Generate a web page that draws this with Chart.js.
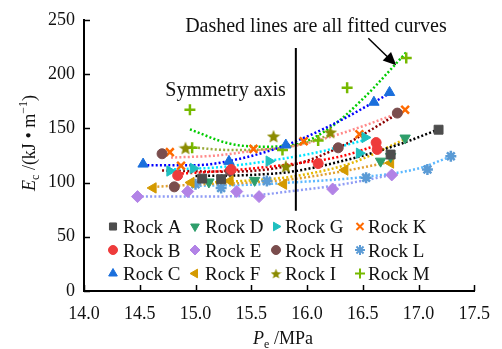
<!DOCTYPE html>
<html><head><meta charset="utf-8">
<script src="https://cdn.jsdelivr.net/npm/chart.js@4.4.0/dist/chart.umd.min.js"></script>
<style>html,body{margin:0;padding:0;background:#fff}#wrap{width:502px;height:349px}</style>
</head><body><div id="wrap"><canvas id="c" width="502" height="349"></canvas></div>
<script>
// Measured points: confining pressure Pe (MPa) and energy Ec (kJ/m)
const rockA_pe = [15.06, 15.23, 16.75, 17.18];
const rockA_ec = [103.6, 103, 125.8, 148.7];
const rockB_pe = [14.84, 15.32, 16.10, 16.62, 16.63];
const rockB_ec = [106.5, 112, 117.5, 136.8, 130.5];
const rockC_pe = [14.53, 15.30, 15.81, 16.60, 16.74];
const rockC_ec = [117, 119.5, 134.6, 174, 183];
const rockD_pe = [15.12, 15.53, 16.66, 16.75, 16.88];
const rockD_ec = [100.5, 102, 119.7, 124, 141];
const rockE_pe = [14.48, 14.93, 15.37, 15.57, 16.23, 16.76];
const rockE_ec = [87, 91.7, 91.7, 87, 94, 107];
const rockF_pe = [14.62, 14.96, 15.31, 15.79, 16.34, 16.75];
const rockF_ec = [95, 100, 101.5, 98.5, 111.5, 118];
const rockG_pe = [14.77, 14.98, 15.66, 16.47, 16.52];
const rockG_ec = [110.6, 113, 119.7, 127, 141.5];
const rockH_pe = [14.70, 14.81, 15.31, 16.28, 16.81];
const rockH_ec = [126.5, 96, 110.6, 132, 164];
const rockI_pe = [14.91, 15.70, 15.81, 16.21];
const rockI_ec = [132, 142.8, 115, 146.5];
const rockK_pe = [14.77, 14.87, 15.52, 15.97, 16.47, 16.88];
const rockK_ec = [128, 115.5, 131, 138, 144.5, 167];
const rockL_pe = [15.0, 15.23, 15.64, 16.53, 17.08, 17.29];
const rockL_ec = [98.5, 95, 101.5, 104.5, 112, 124.3];
const rockM_pe = [14.95, 14.97, 15.78, 16.10, 16.36, 16.89];
const rockM_ec = [167, 132, 130, 138.7, 187.4, 214.8];

// Fitted curves (sampled along each dotted trend line)
const fitA_pe = [15.0, 15.5, 15.86, 16.4, 16.85, 17.18];
const fitA_ec = [106, 107, 110, 122, 136, 149];
const fitB_pe = [14.84, 15.3, 15.86, 16.3, 16.62];
const fitB_ec = [108, 111, 117, 124, 134];
const fitC_pe = [14.53, 15.0, 15.4, 15.8, 16.2, 16.74];
const fitC_ec = [116, 116, 122, 134, 152, 182];
const fitD_pe = [15.1, 15.5, 15.9, 16.4, 16.88];
const fitD_ec = [100, 102, 106, 118, 140];
const fitE_pe = [14.48, 15.0, 15.5, 15.86, 16.3, 16.76];
const fitE_ec = [87, 87, 88, 92, 98, 107];
const fitF_pe = [14.62, 15.0, 15.5, 15.86, 16.3, 16.75];
const fitF_ec = [96, 98, 100, 103, 110, 119];
const fitG_pe = [14.77, 15.2, 15.66, 16.1, 16.51];
const fitG_ec = [112, 114, 120, 128, 139];
const fitH_pe = [14.7, 15.3, 15.9, 16.3, 16.81];
const fitH_ec = [111, 110, 117, 133, 163];
const fitI_pe = [14.91, 15.3, 15.7, 16.0, 16.21];
const fitI_ec = [133, 130, 131, 137, 144];
const fitK_pe = [14.78, 15.2, 15.5, 15.9, 16.3, 16.85];
const fitK_ec = [123, 125, 129, 134, 145, 165];
const fitL_pe = [15.0, 15.5, 15.86, 16.5, 17.0, 17.29];
const fitL_ec = [97, 98, 100, 105, 113, 124];
const fitM_pe = [14.95, 15.3, 15.6, 15.9, 16.2, 16.5, 16.9];
const fitM_ec = [149, 136, 133, 135, 150, 177, 221];

// Symmetry axis
const axis_pe = [15.9, 15.9];
const axis_ec = [74, 224];

const xTicks = [14.0, 14.5, 15.0, 15.5, 16.0, 16.5, 17.0, 17.5];
const yTicks = [0, 50, 100, 150, 200, 250];

const SERIF = '"Liberation Serif", "Times New Roman", serif';

function pts(xs, ys) { return xs.map((x, i) => ({x: x, y: ys[i]})); }

function starImage(size, color) {
  const c = document.createElement('canvas');
  c.width = c.height = size;
  const g = c.getContext('2d');
  g.fillStyle = color;
  g.beginPath();
  for (let i = 0; i < 10; i++) {
    const r = i % 2 ? size * 0.22 : size * 0.5;
    const a = -Math.PI / 2 + i * Math.PI / 5;
    g.lineTo(size / 2 + r * Math.cos(a), size / 2 + r * Math.sin(a) + size * 0.06);
  }
  g.closePath();
  g.fill();
  return c;
}
const starBig = starImage(14, '#8b8b00');
const starSmall = starImage(11, '#8b8b00');

const rocks = [
  {name: 'Rock A', pe: rockA_pe, ec: rockA_ec, color: '#4d4d4d', style: 'rect', rot: 0, r: 6.3, bw: 1, fit: [fitA_pe, fitA_ec], fitColor: '#000000'},
  {name: 'Rock B', pe: rockB_pe, ec: rockB_ec, color: '#ee3b3b', style: 'circle', rot: 0, r: 5, bw: 1, fit: [fitB_pe, fitB_ec], fitColor: '#ff0000'},
  {name: 'Rock C', pe: rockC_pe, ec: rockC_ec, color: '#1a6fdc', style: 'triangle', rot: 0, r: 6, bw: 1, fit: [fitC_pe, fitC_ec], fitColor: '#0000ff'},
  {name: 'Rock D', pe: rockD_pe, ec: rockD_ec, color: '#2e9e6b', style: 'triangle', rot: 180, r: 6, bw: 1, fit: [fitD_pe, fitD_ec], fitColor: '#e6b800'},
  {name: 'Rock E', pe: rockE_pe, ec: rockE_ec, color: '#b283e6', style: 'rectRot', rot: 0, r: 6, bw: 1, fit: [fitE_pe, fitE_ec], fitColor: '#8f9cf5'},
  {name: 'Rock F', pe: rockF_pe, ec: rockF_ec, color: '#d49a00', style: 'triangle', rot: 270, r: 6, bw: 1, fit: [fitF_pe, fitF_ec], fitColor: '#e0a030'},
  {name: 'Rock G', pe: rockG_pe, ec: rockG_ec, color: '#1fbfbf', style: 'triangle', rot: 90, r: 6, bw: 1, fit: [fitG_pe, fitG_ec], fitColor: '#00e5ff'},
  {name: 'Rock H', pe: rockH_pe, ec: rockH_ec, color: '#7a4d4d', style: 'circle', rot: 0, r: 5, bw: 1, fit: [fitH_pe, fitH_ec], fitColor: '#8b0000'},
  {name: 'Rock I', pe: rockI_pe, ec: rockI_ec, color: '#8b8b00', style: starBig, small: starSmall, rot: 0, r: 7, bw: 1, fit: [fitI_pe, fitI_ec], fitColor: '#9aaa3a'},
  {name: 'Rock K', pe: rockK_pe, ec: rockK_ec, color: '#ff6a00', style: 'crossRot', rot: 0, r: 5.5, bw: 2.5, fit: [fitK_pe, fitK_ec], fitColor: '#ff8a8a'},
  {name: 'Rock L', pe: rockL_pe, ec: rockL_ec, color: '#5b9bd5', style: 'star', rot: 0, r: 5.5, bw: 2.5, fit: [fitL_pe, fitL_ec], fitColor: '#5cb8ff'},
  {name: 'Rock M', pe: rockM_pe, ec: rockM_ec, color: '#76b900', style: 'cross', rot: 0, r: 5.5, bw: 2.5, fit: [fitM_pe, fitM_ec], fitColor: '#00cc00'}
];

const datasets = [];
rocks.forEach(rk => {
  datasets.push({
    type: 'line', label: rk.name + ' fit', data: pts(rk.fit[0], rk.fit[1]),
    borderColor: rk.fitColor, borderWidth: 2.5, borderDash: [2, 2.2],
    pointRadius: 0, tension: 0.4, cubicInterpolationMode: 'monotone', fill: false, order: 2
  });
});
rocks.forEach(rk => {
  datasets.push({
    type: 'scatter', label: rk.name, data: pts(rk.pe, rk.ec),
    pointStyle: rk.style, rotation: rk.rot, pointRadius: rk.r, pointHoverRadius: rk.r,
    backgroundColor: rk.color, borderColor: rk.color, pointBorderWidth: rk.bw, order: 0
  });
});
datasets.push({
  type: 'line', label: 'Symmetry axis', data: pts(axis_pe, axis_ec),
  borderColor: '#000', borderWidth: 2, pointRadius: 0, fill: false, order: 1
});

// Inward tick marks, axis titles, annotations and the in-plot legend
const decor = {
  id: 'decor',
  afterDraw(chart) {
    const ctx = chart.ctx, xs = chart.scales.x, ys = chart.scales.y, ca = chart.chartArea;
    ctx.save();
    ctx.strokeStyle = '#000'; ctx.lineWidth = 1.5;
    xTicks.forEach(v => {
      const p = Math.round(xs.getPixelForValue(v)) + 0.5;
      ctx.beginPath(); ctx.moveTo(p, ca.bottom); ctx.lineTo(p, ca.bottom - 6); ctx.stroke();
    });
    yTicks.forEach(v => {
      const p = Math.round(ys.getPixelForValue(v)) + 0.5;
      ctx.beginPath(); ctx.moveTo(ca.left, p); ctx.lineTo(ca.left + 6, p); ctx.stroke();
    });

    // x-axis title
    ctx.fillStyle = '#111';
    ctx.textBaseline = 'alphabetic';
    const xParts = [
      {t: 'P', f: 'italic 18px ' + SERIF, dy: 0},
      {t: 'e', f: '12px ' + SERIF, dy: 4},
      {t: ' /MPa', f: '18px ' + SERIF, dy: 0}
    ];
    drawParts(ctx, xParts, 283, 344);

    // y-axis title (rotated)
    ctx.save();
    ctx.translate(35, 143);
    ctx.rotate(-Math.PI / 2);
    const yParts = [
      {t: 'E', f: 'italic 18px ' + SERIF, dy: 0},
      {t: 'c', f: '12px ' + SERIF, dy: 4},
      {t: ' /(kJ \u2022 m', f: '18px ' + SERIF, dy: 0},
      {t: '\u22121', f: '12px ' + SERIF, dy: -8},
      {t: ')', f: '18px ' + SERIF, dy: 0}
    ];
    drawParts(ctx, yParts, 0, 0);
    ctx.restore();

    // annotations
    ctx.font = '20px ' + SERIF;
    ctx.textAlign = 'center';
    ctx.fillText('Dashed lines are all fitted curves', xs.getPixelForValue(16.08), ys.getPixelForValue(239));
    ctx.fillText('Symmetry axis', xs.getPixelForValue(15.27), ys.getPixelForValue(180));

    // arrow
    const ax0 = xs.getPixelForValue(16.55), ay0 = ys.getPixelForValue(233);
    const ax1 = xs.getPixelForValue(16.8), ay1 = ys.getPixelForValue(208);
    const ang = Math.atan2(ay1 - ay0, ax1 - ax0);
    ctx.strokeStyle = '#000'; ctx.lineWidth = 1.5;
    ctx.beginPath(); ctx.moveTo(ax0, ay0);
    ctx.lineTo(ax1 - 8 * Math.cos(ang), ay1 - 8 * Math.sin(ang)); ctx.stroke();
    ctx.fillStyle = '#000';
    ctx.beginPath();
    ctx.moveTo(ax1, ay1);
    ctx.lineTo(ax1 - 13 * Math.cos(ang) + 6 * Math.sin(ang), ay1 - 13 * Math.sin(ang) - 6 * Math.cos(ang));
    ctx.lineTo(ax1 - 13 * Math.cos(ang) - 6 * Math.sin(ang), ay1 - 13 * Math.sin(ang) + 6 * Math.cos(ang));
    ctx.closePath(); ctx.fill();

    // legend: 4 columns x 3 rows
    const order = ['Rock A', 'Rock D', 'Rock G', 'Rock K', 'Rock B', 'Rock E', 'Rock H', 'Rock L', 'Rock C', 'Rock F', 'Rock I', 'Rock M'];
    const colMark = [113, 195, 276, 360], colText = [123, 205, 285, 368];
    const rowBase = [233, 256.5, 280];
    ctx.textAlign = 'left';
    ctx.font = '19px ' + SERIF;
    order.forEach((nm, i) => {
      const rk = rocks.find(r => r.name === nm);
      const c = i % 4, r = Math.floor(i / 4);
      const my = rowBase[r] - 6.5;
      ctx.fillStyle = rk.color; ctx.strokeStyle = rk.color;
      ctx.lineWidth = rk.bw === 1 ? 1 : 2;
      Chart.helpers.drawPoint(ctx, {
        pointStyle: rk.small || rk.style, rotation: rk.rot,
        radius: rk.style === 'circle' ? 4.5 : 5, borderWidth: ctx.lineWidth
      }, colMark[c], my);
      ctx.fillStyle = '#111';
      ctx.fillText(nm, colText[c], rowBase[r]);
    });
    ctx.restore();
  }
};

function drawParts(ctx, parts, cx, base) {
  let w = 0;
  parts.forEach(p => { ctx.font = p.f; p.w = ctx.measureText(p.t).width; w += p.w; });
  let x = cx - w / 2;
  ctx.textAlign = 'left';
  parts.forEach(p => { ctx.font = p.f; ctx.fillText(p.t, x, base + p.dy); x += p.w; });
}

new Chart(document.getElementById('c'), {
  type: 'scatter',
  data: {datasets: datasets},
  options: {
    responsive: false, animation: false, devicePixelRatio: 1,
    layout: {padding: {left: 0, right: 22, top: 18, bottom: 0}},
    plugins: {legend: {display: false}, tooltip: {enabled: false}},
    scales: {
      x: {
        type: 'linear', min: 14.0, max: 17.5,
        afterBuildTicks: s => { s.ticks = xTicks.map(v => ({value: v})); },
        afterFit: s => { s.height = 58; },
        grid: {display: false, drawTicks: false},
        border: {display: true, color: '#000', width: 2},
        ticks: {padding: 12, color: '#111', font: {family: SERIF, size: 18},
                callback: v => Number(v).toFixed(1), maxRotation: 0}
      },
      y: {
        type: 'linear', min: 0, max: 250,
        afterBuildTicks: s => { s.ticks = yTicks.map(v => ({value: v})); },
        afterFit: s => { s.width = 84; },
        grid: {display: false, drawTicks: false},
        border: {display: true, color: '#000', width: 2},
        ticks: {padding: 9, color: '#111', font: {family: SERIF, size: 18}}
      }
    }
  },
  plugins: [decor]
});
</script>
</body></html>
